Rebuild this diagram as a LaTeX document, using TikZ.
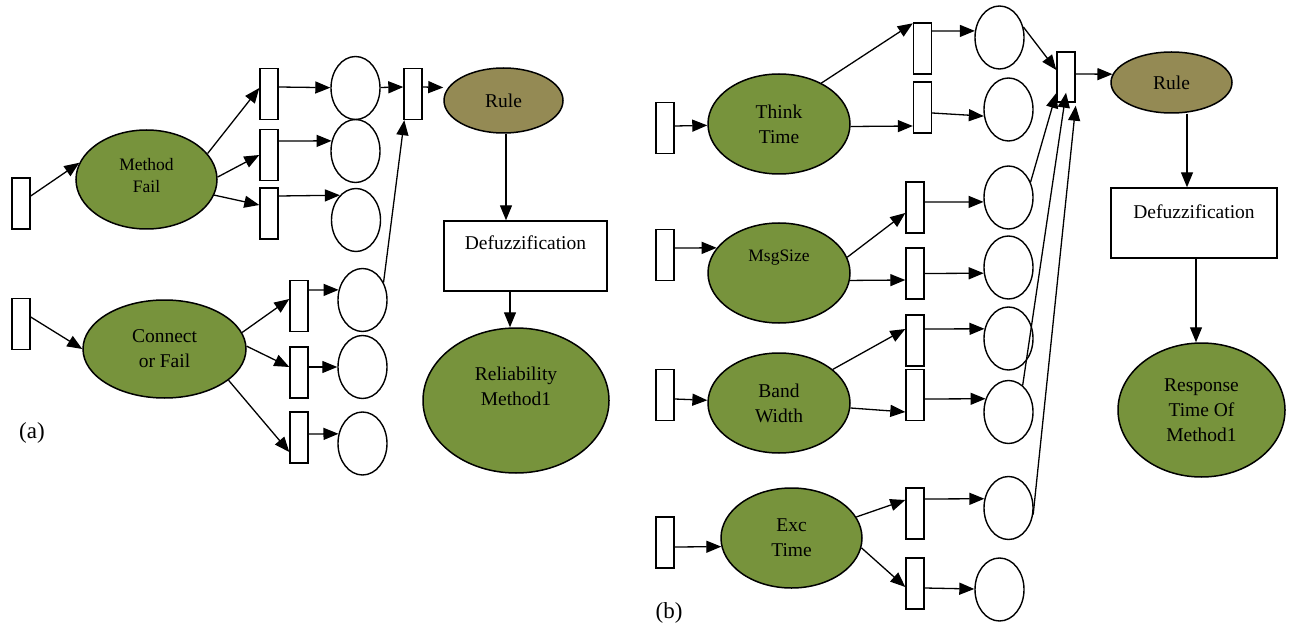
\documentclass[tikz,border=0pt]{standalone}
\usepackage{fontspec}
\setmainfont{Liberation Serif}
\usetikzlibrary{shapes.geometric,arrows.meta}
\definecolor{leaf}{HTML}{77933C}
\definecolor{ruletan}{HTML}{948A54}
\begin{document}
\begin{tikzpicture}[x=1pt,y=-1pt,
  txt/.style={font=\fontsize{19.5}{25}\selectfont, align=center},
  smalltxt/.style={font=\fontsize{17.5}{22}\selectfont, align=center},
  trans/.style={draw, line width=1.4pt, fill=white, rectangle, minimum width=18pt, minimum height=51pt, inner sep=0pt},
  place/.style={draw, line width=1.4pt, ellipse, minimum width=49pt, minimum height=63pt, inner sep=0pt},
  fuzzy/.style={draw, line width=1.5pt, ellipse, fill=leaf, inner sep=0pt, txt},
  rulenode/.style={fuzzy, fill=ruletan},
  defuzz/.style={draw, line width=1.4pt, rectangle, inner sep=0pt},
  flow/.style={line width=1.3pt, -{Triangle[length=15pt,width=12pt]}},
  panel/.style={font=\fontsize{23}{27}\selectfont}
]
\useasboundingbox (0,0) rectangle (1289,628);

% ---------------- (a) reliability net ----------------
\node[trans] (pa1) at (21,203.5) {};
\node[fuzzy, minimum width=141pt, minimum height=99pt,
      label={[smalltxt, yshift=4pt]center:Method\\Fail}] (mf) at (146.5,179.5) {};
\node[trans] (ta1) at (269,94) {};
\node[trans] (ta2) at (269,155) {};
\node[trans] (ta3) at (269,213.5) {};
\node[place] (ca1) at (355.5,88) {};
\node[place] (ca2) at (355.5,151) {};
\node[place] (ca3) at (356,220) {};
\node[trans] (ma) at (413,94) {};
\node[rulenode, minimum width=119pt, minimum height=65pt] (rulea) at (503.5,100.5) {Rule};
\node[defuzz, minimum width=163pt, minimum height=70pt,
      label={[txt, yshift=13pt]center:Defuzzification}] (defa) at (525.5,256) {};
\node[fuzzy, minimum width=186pt, minimum height=145pt,
      label={[txt, yshift=14pt]center:Reliability\\Method1}] (rela) at (516,400.5) {};
\node[trans] (pa2) at (21,324) {};
\node[fuzzy, minimum width=163pt, minimum height=98pt] (cf) at (164.5,349) {Connect\\or Fail};
\node[trans] (tb1) at (299,306) {};
\node[trans] (tb2) at (299,372.5) {};
\node[trans] (tb3) at (299,437.5) {};
\node[place] (cb1) at (362.5,300) {};
\node[place] (cb2) at (362.5,367) {};
\node[place] (cb3) at (362.5,443.5) {};
\node[panel] (laba) at (32,433) {(a)};

\draw[flow] ([yshift=7.5pt]pa1.east) -- (mf.166);
\draw[flow] (mf.23) -- ([yshift=6pt]ta1.west);
\draw[flow] (mf.2) -- (ta2.west);
\draw[flow] (mf.347) -- ([yshift=8.5pt]ta3.west);
\draw[flow] ([yshift=7pt]ta1.east) -- (ca1);
\draw[flow] ([yshift=14pt]ta2.east) -- (ca2.157);
\draw[flow] ([yshift=17.5pt]ta3.east) -- (ca3.123);
\draw[flow] (ca1) -- ([yshift=7pt]ma.west);
\draw[flow] ([yshift=7pt]ma.east) -- ([yshift=13pt]rulea.west);
\draw[flow] (cb1.40) -- ([xshift=1pt]ma.south west);
\draw[flow] ([yshift=7pt]pa2.east) -- (cf.west);
\draw[flow] (cf.12) -- ([yshift=7pt]tb1.west);
\draw[flow] (cf.2) -- ([yshift=5.5pt]tb2.west);
\draw[flow] (cf.334) -- ([yshift=-14.5pt]tb3.west);
\draw[flow] ([yshift=16pt]tb1.east) -- (cb1.157);
\draw[flow] ([yshift=5.5pt]tb2.east) -- (cb2.west);
\draw[flow] ([yshift=3.5pt]tb3.east) -- (cb3.158);
\draw[flow] ([xshift=2.5pt]rulea.south) -- ([xshift=-19.5pt]defa.north);
\draw[flow] ([xshift=-15.5pt]defa.south) -- ([xshift=-6pt]rela.north);

% ---------------- (b) response-time net ----------------
\node[trans] (pb1) at (665,128) {};
\node[fuzzy, minimum width=142pt, minimum height=100pt] (tt) at (779,124) {Think\\Time};
\node[trans] (t1) at (922.5,48.5) {};
\node[trans] (t2) at (922.5,107.5) {};
\node[place] (c1) at (999.5,37.5) {};
\node[place] (c2) at (1008.5,109.5) {};
\node[trans, minimum height=50pt] (mb) at (1066,77) {};
\node[rulenode, minimum width=121pt, minimum height=61pt] (ruleb) at (1171.5,82.5) {Rule};
\node[defuzz, minimum width=166pt, minimum height=70pt,
      label={[txt, yshift=11pt]center:Defuzzification}] (defb) at (1194,223) {};
\node[fuzzy, minimum width=167pt, minimum height=134pt] (resp) at (1201.5,410) {Response\\Time Of\\Method1};

\node[trans] (pb2) at (665,255) {};
\node[fuzzy, minimum width=142pt, minimum height=100pt,
      label={[smalltxt, yshift=15pt]center:MsgSize}] (ms) at (779,273) {};
\node[trans] (t3) at (915,207.5) {};
\node[trans] (t4) at (915,273.5) {};
\node[trans] (t5) at (915,340.5) {};
\node[trans] (t6) at (915,395) {};
\node[place] (c3) at (1008.5,197.5) {};
\node[place] (c4) at (1008.5,267.5) {};
\node[place] (c5) at (1008.5,338.5) {};
\node[place] (c6) at (1008.5,412) {};

\node[trans] (pb3) at (665,395) {};
\node[fuzzy, minimum width=142pt, minimum height=100pt] (bw) at (779,403) {Band\\Width};

\node[trans] (pb4) at (665,542.5) {};
\node[fuzzy, minimum width=141pt, minimum height=100pt] (ex) at (791.5,538) {Exc\\Time};
\node[trans] (t7) at (915,513.5) {};
\node[trans] (t8) at (915,583.5) {};
\node[place] (c7) at (1008.5,508) {};
\node[place] (c8) at (999.5,589.5) {};
\node[panel] (labb) at (669,613) {(b)};

\draw[flow] ([yshift=2pt]pb1.east) -- (tt);
\draw[flow] (tt.44) -- ([yshift=-1pt]t1.north west);
\draw[flow] (tt.358) -- ([yshift=-18.5pt]t2.west);
\draw[flow] ([yshift=17.5pt]t1.east) -- (c1.165);
\draw[flow] ([yshift=-5.5pt]t2.east) -- (c2.195);
\draw[flow] (c1.24) -- ([yshift=7pt]mb.west);
\draw[flow] ([yshift=3pt]mb.east) -- (ruleb.172);
\draw[flow] (c3.35) -- ([yshift=-16pt]mb.west);
\draw[flow] (c6.62) -- ([yshift=10pt]mb.south);
\draw[flow] (c7.345) -- ([yshift=-3pt]mb.south east);
\draw[flow] ([xshift=15.5pt]ruleb.south) -- ([xshift=-7pt]defb.north);
\draw[flow] ([xshift=2pt]defb.south) -- ([xshift=-5.5pt]resp.north);

\draw[flow] ([yshift=7pt]pb2.east) -- (ms.158);
\draw[flow] (ms.13) -- ([yshift=-5.5pt]t3.west);
\draw[flow] (ms.354) -- ([yshift=-6.5pt]t4.west);
\draw[flow] ([yshift=5.5pt]t3.east) -- (c3.190);
\draw[flow] (t4.east) -- (c4.193);
\draw[flow] ([yshift=11.5pt]t5.east) -- (c5.158);
\draw[flow] ([yshift=-4pt]t6.east) -- (c6.150);

\draw[flow] ([yshift=-4pt]pb3.east) -- (bw);
\draw[flow] (bw.32) -- ([yshift=11.5pt]t5.west);
\draw[flow] (bw.356) -- ([yshift=-17pt]t6.west);

\draw[flow] ([yshift=-4.5pt]pb4.east) -- (ex.187);
\draw[flow] (ex.18) -- ([yshift=13.5pt]t7.west);
\draw[flow] (ex.352) -- ([yshift=-3.5pt]t8.west);
\draw[flow] ([yshift=14.5pt]t7.east) -- (c7.159);
\draw[flow] ([yshift=-4.5pt]t8.east) -- (c8);
\end{tikzpicture}
\end{document}
